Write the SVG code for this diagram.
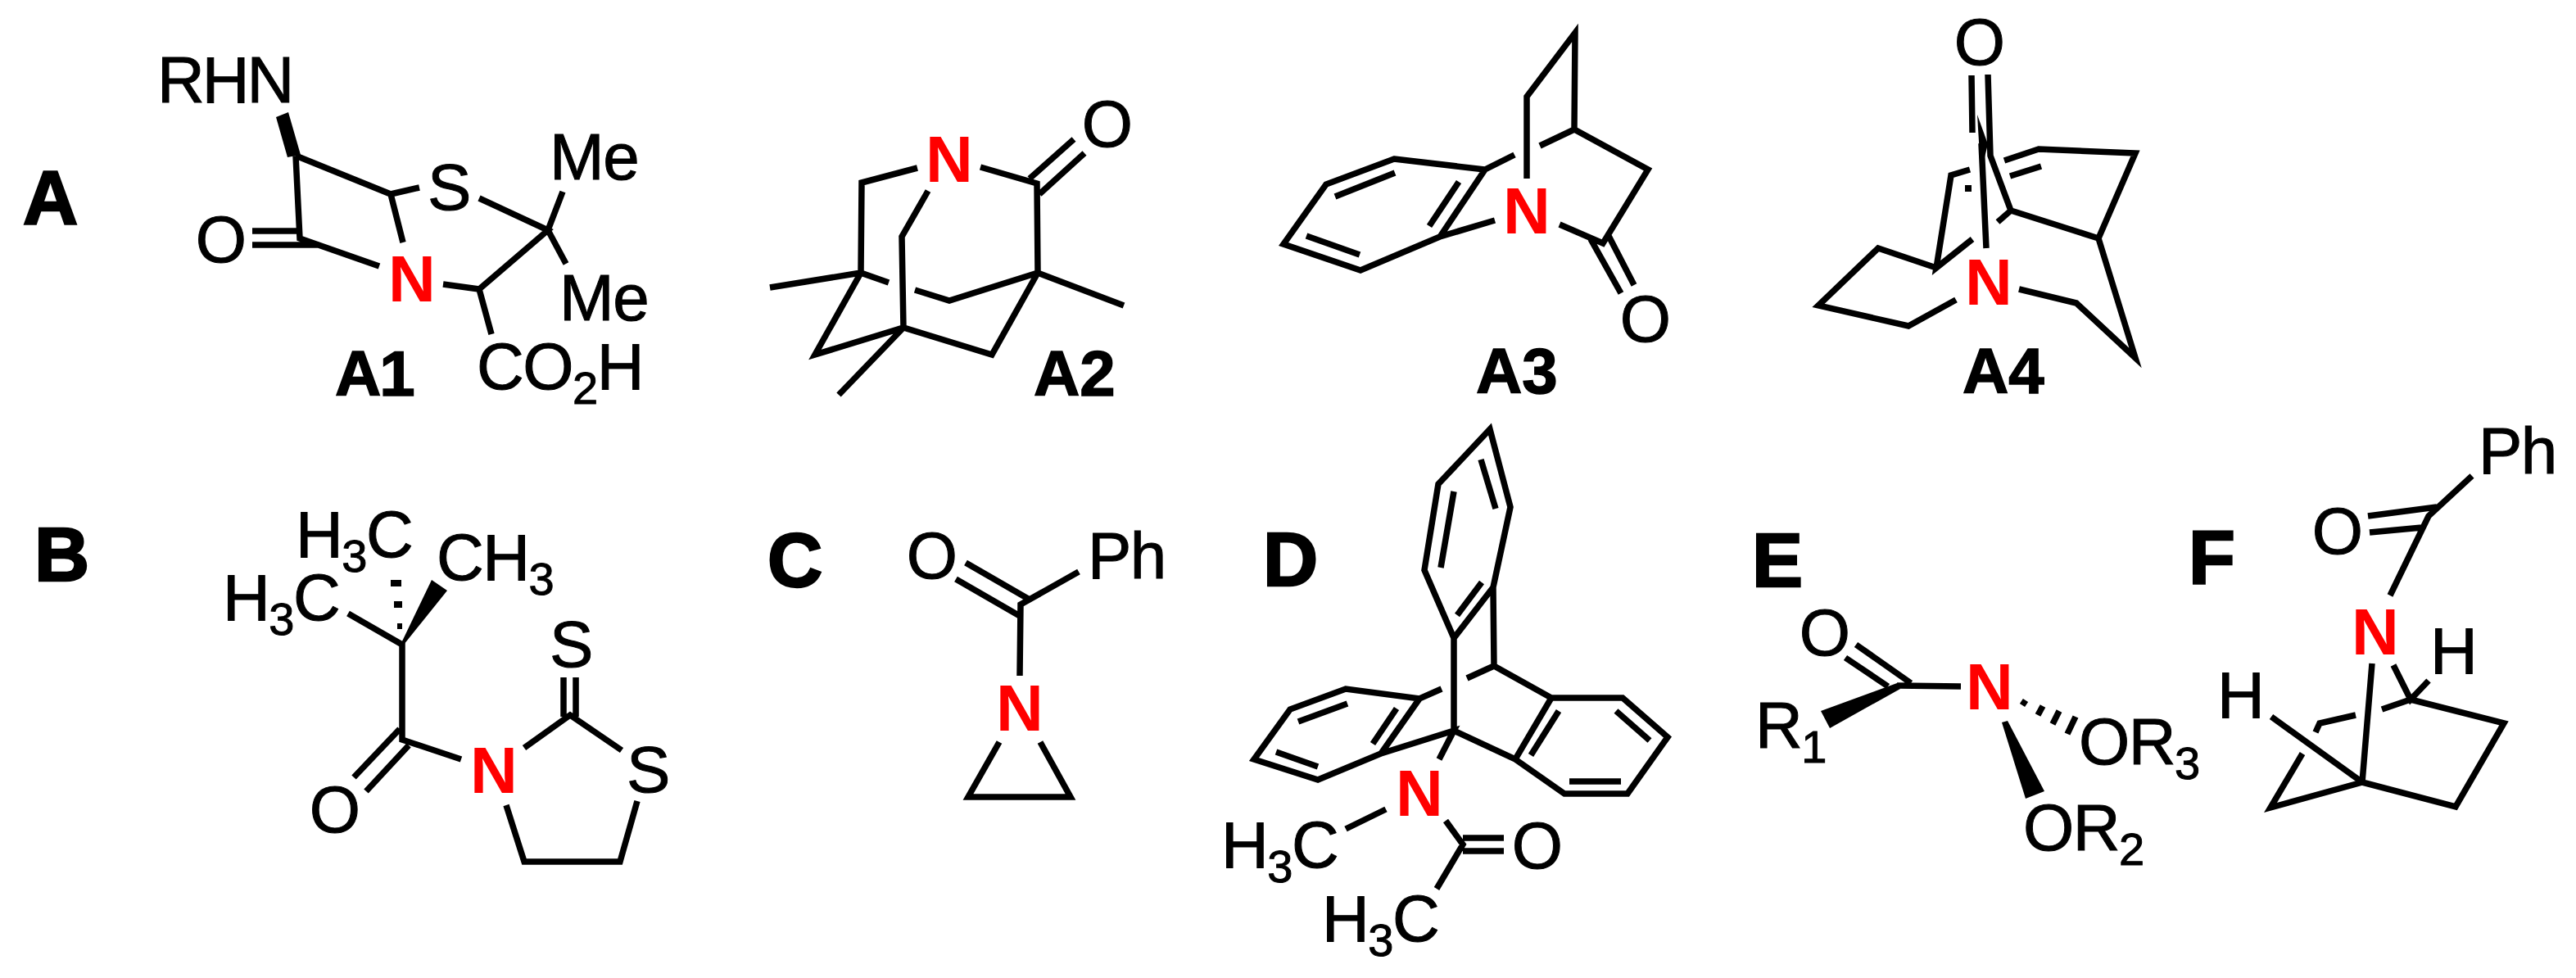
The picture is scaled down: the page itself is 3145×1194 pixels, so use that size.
<svg xmlns="http://www.w3.org/2000/svg" width="3145" height="1194" viewBox="0 0 3145 1194">
<style>
.b{fill:none;stroke:#000;stroke-width:7.5;stroke-linejoin:miter;stroke-miterlimit:6}
.w{fill:#000;stroke:none}
text{font-family:"Liberation Sans",Arial,Helvetica,sans-serif;fill:#000}
.t{font-size:80px;letter-spacing:-1.5px;stroke:#000;stroke-width:1px}
.s{font-size:56px}
.m{text-anchor:middle}
.n{font-size:80px;font-weight:bold;fill:#f00;text-anchor:middle}
.p{font-size:93px;font-weight:bold;stroke:#000;stroke-width:2.5px}
.l{font-size:78px;font-weight:bold;stroke:#000;stroke-width:1.5px}
</style>
<rect width="3145" height="1194" fill="#fff"/>

<g id="A1">
<path class="w" d="M337 143L352 137L367 189L351 192Z"/>
<path class="b" d="M361 190L366 291L463 325M361 190L477 237L512 229M477 237L492 296M308 282H364M308 299H390M541 347L585 353L669 281L585 242M585 353L600 408M669 281L687 234M669 281L691 322"/>
<text class="p" x="28" y="273">A</text>
<text class="t" x="192" y="125" style="letter-spacing:-3px">RHN</text>
<text class="t m" x="269" y="320">O</text>
<text class="t m" x="548" y="256">S</text>
<text class="n" x="503" y="368">N</text>
<text class="t" x="671" y="219">Me</text>
<text class="t" x="683" y="391">Me</text>
<text class="t" x="582" y="475">CO<tspan class="s" dy="18">2</tspan><tspan dy="-18">H</tspan></text>
<text class="l" x="409" y="483">A<tspan dx="-2">1</tspan></text>
</g>

<g id="A2">
<path class="b" d="M1120 205L1052 223L1051 333L1085 345M1197 204L1266 224L1267 333L1159 367L1117 354M1311 170L1257 218M1324 187L1269 237M1133 233L1101 289L1103 400M1051 333L940 351M1267 333L1372 373M1051 333L995 433L1103 400L1211 433L1267 333M1103 400L1024 482"/>
<text class="n" x="1159" y="222">N</text>
<text class="t m" x="1351" y="179">O</text>
<text class="l" x="1262" y="483">A2</text>
</g>

<g id="A3">
<path class="b" d="M1702 194L1813 207L1758 289L1661 330L1567 298L1619 225ZM1630 240L1703 211M1745 276L1781 222M1595 288L1660 311M1813 207L1849 189M1880 178L1922 158L2012 207L1957 297L1904 274M1758 289L1825 269M1864 218V118L1923 40L1922 158M1942 292L1979 358M1964 288L1995 348"/>
<text class="n" x="1864" y="285">N</text>
<text class="t m" x="2008" y="417">O</text>
<text class="l" x="1802" y="480">A3</text>
</g>

<g id="A4">
<path class="w" d="M2414 140L2427 176L2421 200L2417 190Z"/>
<path class="b" d="M2407 92L2408 162M2427 91L2430 190L2455 257L2439 271M2419 175L2425 303M2455 257L2562 291L2607 187L2489 182L2447 196M2454 215L2492 203M2405 207L2382 214L2364 327L2408 292M2364 327L2293 303L2220 373L2330 398L2388 366M2465 353L2535 370L2607 437L2562 291"/>
<rect class="w" x="2399" y="226" width="8" height="8"/>
<text class="t m" x="2416" y="79">O</text>
<text class="n" x="2428" y="372">N</text>
<text class="l" x="2396" y="480">A4</text>
</g>

<g id="B">
<rect class="w" x="477" y="708" width="13" height="8"/>
<rect class="w" x="481" y="734" width="10" height="8"/>
<rect class="w" x="485" y="761" width="6" height="7"/>
<path class="w" d="M489 787L527 708L546 721L493 787Z"/>
<path class="b" d="M425 749L491 787V903L563 927M488 890L432 949M499 910L447 966M640 913L696 873L759 916M688 827V875M703 827V875M618 983L640 1052H757L778 978"/>
<text class="p" x="42" y="709">B</text>
<text class="t" x="361" y="680">H<tspan class="s" dy="18">3</tspan><tspan dy="-18">C</tspan></text>
<text class="t" x="533" y="708">CH<tspan class="s" dy="18">3</tspan></text>
<text class="t" x="272" y="757">H<tspan class="s" dy="18">3</tspan><tspan dy="-18">C</tspan></text>
<text class="t m" x="697" y="814">S</text>
<text class="t m" x="791" y="967">S</text>
<text class="n" x="603" y="968">N</text>
<text class="t m" x="408" y="1016">O</text>
</g>

<g id="C">
<path class="b" d="M1245 825L1246 738L1317 698M1179 687L1257 732M1167 707L1245 752M1220 906L1182 973H1307L1270 906"/>
<text class="p" x="937" y="716">C</text>
<text class="t m" x="1137" y="706">O</text>
<text class="t" x="1328" y="706">Ph</text>
<text class="n" x="1245" y="892">N</text>
</g>

<g id="D">
<path class="b" d="M1819 524L1844 619L1823 717L1775 779L1739 696L1756 591ZM1808 561L1826 621M1775 600L1759 693M1809 711L1779 751M1823 717L1824 813M1775 779V892M1824 813L1791 828M1760 841L1733 853L1643 841L1575 866L1531 927L1609 952L1686 920L1733 853M1585 881L1645 859M1558 918L1609 936M1676 908L1705 865M1686 920L1775 892L1757 927M1775 892L1850 927L1894 852H1981L2036 900L1987 969H1910L1850 927M1869 922L1903 868M1973 868L2014 904M1916 954H1979M1824 813L1894 852M1692 988L1643 1012M1765 1002L1786 1031L1754 1085M1786 1023H1836M1786 1039H1836"/>
<text class="p" x="1542" y="715">D</text>
<text class="n" x="1733" y="996">N</text>
<text class="t" x="1491" y="1059">H<tspan class="s" dy="18">3</tspan><tspan dy="-18">C</tspan></text>
<text class="t m" x="1876" y="1060">O</text>
<text class="t" x="1614" y="1149">H<tspan class="s" dy="18">3</tspan><tspan dy="-18">C</tspan></text>
</g>

<g id="E">
<path class="w" d="M2223 868L2234 889L2320 841L2316 834Z"/>
<path class="b" d="M2316 837L2394 838M2266 787L2333 834M2253 803L2305 838M2473 855L2469 861M2494 862L2488 873M2514 868L2506 884M2534 875L2524 896"/>
<path class="w" d="M2444 882L2451 880L2496 966L2473 975Z"/>
<text class="p" x="2139" y="716">E</text>
<text class="t m" x="2227" y="800">O</text>
<text class="n" x="2429" y="866">N</text>
<text class="t" x="2143" y="913">R<tspan class="s" dy="18">1</tspan></text>
<text class="t" x="2538" y="933">OR<tspan class="s" dy="18">3</tspan></text>
<text class="t" x="2470" y="1038">OR<tspan class="s" dy="18">2</tspan></text>
</g>

<g id="F">
<path class="b" d="M3018 581L2965 630L2918 727M2891 630L2975 619M2893 650L2957 644M2896 810L2884 955M2922 812L2943 854L2965 831M2943 854L2908 866M2943 854L3057 883L2998 985L2884 955M2876 873L2832 883L2827 894M2773 875L2884 955L2772 986L2811 920"/>
<text class="p" x="2672" y="712">F</text>
<text class="t" x="3026" y="578">Ph</text>
<text class="t m" x="2853" y="676">O</text>
<text class="n" x="2900" y="799">N</text>
<text class="t" x="2967" y="822">H</text>
<text class="t" x="2707" y="876">H</text>
</g>
</svg>
